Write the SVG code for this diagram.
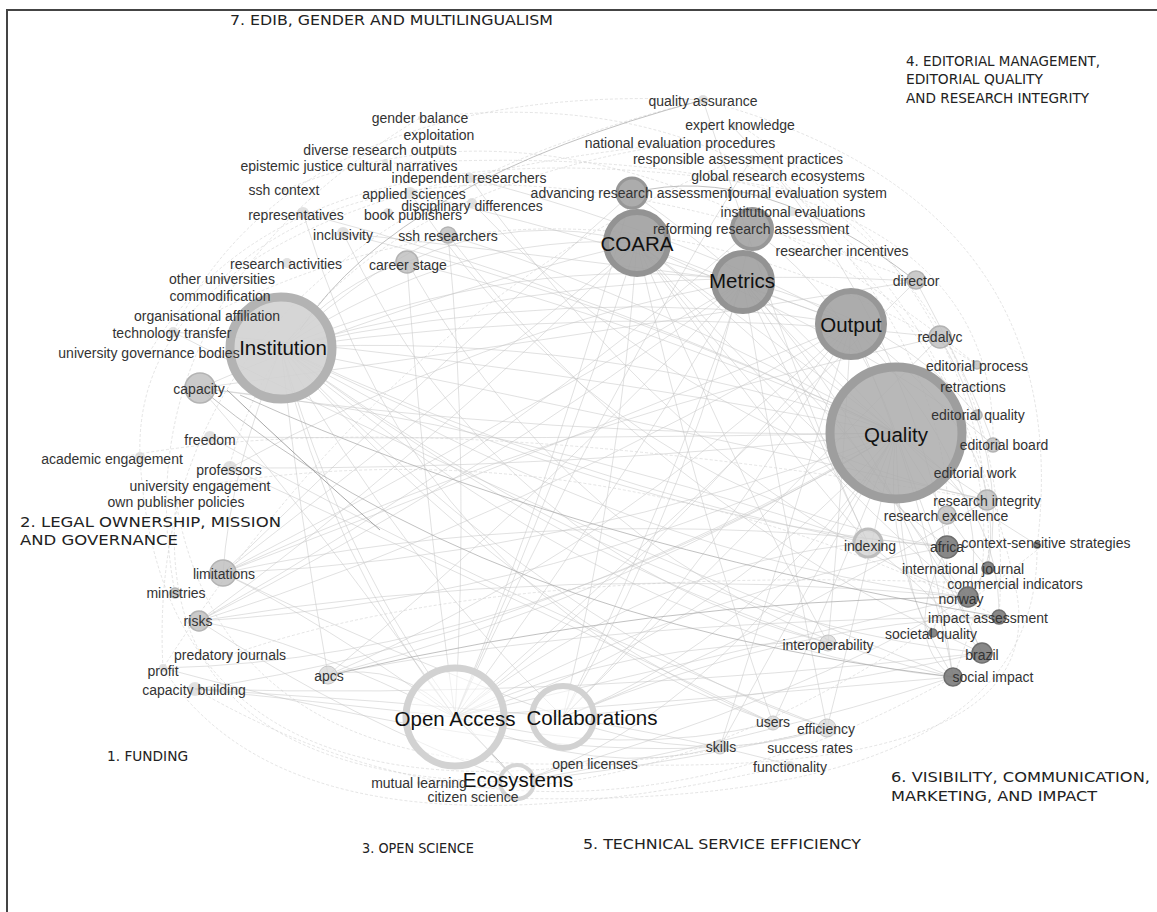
<svg xmlns="http://www.w3.org/2000/svg" width="1157" height="912" viewBox="0 0 1157 912">
<style>
.e{fill:none;stroke:#c6c6c6;stroke-width:0.7;opacity:0.75}
.f{fill:none;stroke:#d2d2d2;stroke-width:0.7;stroke-dasharray:3 2;opacity:0.85}
.m{fill:none;stroke:#a9a9a9;stroke-width:0.9;opacity:0.8}
.d{fill:none;stroke:#8a8a8a;stroke-width:1;opacity:0.75}
.n{fill:#bdbdbd;fill-opacity:0.8;stroke:#b3b3b3;stroke-width:1.5}
.t{fill:#d4d4d4;fill-opacity:0.7}
.k{fill:#7b7b7b;fill-opacity:0.9;stroke:#6e6e6e;stroke-width:1.5}
.l{font-family:"Liberation Sans",Arial,sans-serif;font-size:14px;fill:#333;text-anchor:middle;dominant-baseline:central}
.b{font-family:"Liberation Sans",Arial,sans-serif;font-size:20.5px;fill:#111;text-anchor:middle;dominant-baseline:central}
.g{font-family:"DejaVu Sans",Verdana,sans-serif;font-size:14px;fill:#222}
</style>
<rect width="1157" height="912" fill="#fff"/>
<path d="M7 912V10H1157" fill="none" stroke="#444" stroke-width="2"/>
<g id="edges">
<path class="e" d="M281 348Q460 230 637 243"/>
<path class="e" d="M281 348Q520 250 743 281"/>
<path class="e" d="M281 348Q580 280 851 324"/>
<path class="e" d="M281 348Q600 330 896 433"/>
<path class="e" d="M281 348Q330 560 455 717"/>
<path class="e" d="M281 348Q400 560 563 717"/>
<path class="e" d="M281 348Q360 620 517 782"/>
<path class="e" d="M281 348Q230 470 223 573"/>
<path class="e" d="M281 348Q300 520 328 675"/>
<path class="e" d="M281 348Q560 480 868 543"/>
<path class="e" d="M281 348Q620 520 947 547"/>
<path class="e" d="M281 348Q640 560 968 597"/>
<path class="e" d="M281 348Q560 560 828 643"/>
<path class="e" d="M281 348Q520 620 773 723"/>
<path class="e" d="M281 348Q560 640 827 728"/>
<path class="e" d="M281 348Q640 650 953 677"/>
<path class="e" d="M281 348Q650 620 982 653"/>
<path class="e" d="M281 348Q620 300 940 337"/>
<path class="e" d="M281 348Q600 260 916 281"/>
<path class="e" d="M281 348Q640 420 987 500"/>
<path class="e" d="M281 348Q340 280 407 262"/>
<path class="e" d="M281 348Q380 260 448 235"/>
<path class="e" d="M896 433Q760 330 637 243"/>
<path class="e" d="M896 433Q760 280 632 193"/>
<path class="e" d="M896 433Q850 300 752 229"/>
<path class="e" d="M896 433Q700 650 455 717"/>
<path class="e" d="M896 433Q760 640 563 717"/>
<path class="e" d="M896 433Q720 720 517 782"/>
<path class="e" d="M896 433Q560 560 223 573"/>
<path class="e" d="M896 433Q560 600 199 621"/>
<path class="e" d="M896 433Q560 440 200 388"/>
<path class="e" d="M896 433Q620 600 328 675"/>
<path class="e" d="M896 433Q640 320 407 262"/>
<path class="e" d="M896 433Q660 300 448 235"/>
<path class="e" d="M896 433Q620 300 343 233"/>
<path class="e" d="M896 433Q600 290 303 213"/>
<path class="e" d="M896 433Q520 360 173 332"/>
<path class="e" d="M896 433Q540 440 210 437"/>
<path class="e" d="M896 433Q560 470 230 468"/>
<path class="e" d="M896 433Q540 640 195 689"/>
<path class="e" d="M896 433Q520 660 163 668"/>
<path class="e" d="M896 433Q800 600 720 747"/>
<path class="e" d="M896 433Q830 600 773 723"/>
<path class="e" d="M896 433Q860 600 827 728"/>
<path class="e" d="M896 433Q880 560 953 677"/>
<path class="e" d="M896 433Q940 560 982 653"/>
<path class="e" d="M896 433Q960 500 1037 545"/>
<path class="e" d="M896 433Q1000 500 999 617"/>
<path class="e" d="M896 433Q960 540 988 568"/>
<path class="e" d="M896 433Q900 600 933 633"/>
<path class="e" d="M637 243Q560 480 455 717"/>
<path class="e" d="M637 243Q620 480 563 717"/>
<path class="e" d="M637 243Q420 420 223 573"/>
<path class="e" d="M637 243Q420 460 199 621"/>
<path class="e" d="M637 243Q760 420 868 543"/>
<path class="e" d="M637 243Q800 430 947 547"/>
<path class="e" d="M637 243Q760 520 828 643"/>
<path class="e" d="M637 243Q700 520 773 723"/>
<path class="e" d="M637 243Q820 480 968 597"/>
<path class="e" d="M637 243Q780 300 851 324"/>
<path class="e" d="M637 243Q520 210 407 262"/>
<path class="e" d="M637 243Q400 300 200 388"/>
<path class="e" d="M637 243Q900 360 993 445"/>
<path class="e" d="M637 243Q880 420 982 653"/>
<path class="e" d="M743 281Q600 520 455 717"/>
<path class="e" d="M743 281Q660 520 563 717"/>
<path class="e" d="M743 281Q480 440 223 573"/>
<path class="e" d="M743 281Q480 480 199 621"/>
<path class="e" d="M743 281Q540 500 328 675"/>
<path class="e" d="M743 281Q820 440 868 543"/>
<path class="e" d="M743 281Q860 420 987 500"/>
<path class="e" d="M743 281Q860 460 968 597"/>
<path class="e" d="M743 281Q780 500 827 728"/>
<path class="e" d="M743 281Q500 250 343 233"/>
<path class="e" d="M743 281Q480 330 230 468"/>
<path class="e" d="M743 281Q900 320 977 415"/>
<path class="e" d="M743 281Q920 480 953 677"/>
<path class="e" d="M851 324Q660 560 455 717"/>
<path class="e" d="M851 324Q720 560 563 717"/>
<path class="e" d="M851 324Q520 460 223 573"/>
<path class="e" d="M851 324Q520 520 199 621"/>
<path class="e" d="M851 324Q600 560 328 675"/>
<path class="e" d="M851 324Q700 240 470 178"/>
<path class="e" d="M851 324Q650 250 410 193"/>
<path class="e" d="M851 324Q840 520 828 643"/>
<path class="e" d="M851 324Q780 560 720 747"/>
<path class="e" d="M851 324Q930 500 953 677"/>
<path class="e" d="M851 324Q980 420 987 500"/>
<path class="e" d="M851 324Q1000 480 968 597"/>
<path class="e" d="M455 717Q700 660 968 597"/>
<path class="e" d="M455 717Q700 700 953 677"/>
<path class="e" d="M455 717Q620 640 828 643"/>
<path class="e" d="M455 717Q620 760 773 723"/>
<path class="e" d="M455 717Q600 780 720 747"/>
<path class="e" d="M455 717Q700 590 947 547"/>
<path class="e" d="M455 717Q660 560 868 543"/>
<path class="e" d="M455 717Q300 640 199 621"/>
<path class="e" d="M455 717Q320 620 223 573"/>
<path class="e" d="M455 717Q300 700 195 689"/>
<path class="e" d="M455 717Q400 660 328 675"/>
<path class="e" d="M455 717Q300 500 200 388"/>
<path class="e" d="M455 717Q420 460 407 262"/>
<path class="e" d="M455 717Q470 460 448 235"/>
<path class="e" d="M563 717Q760 640 987 500"/>
<path class="e" d="M563 717Q760 700 982 653"/>
<path class="e" d="M563 717Q700 770 827 728"/>
<path class="e" d="M563 717Q700 740 790 765"/>
<path class="e" d="M563 717Q380 650 223 573"/>
<path class="e" d="M563 717Q380 700 195 689"/>
<path class="e" d="M563 717Q800 620 999 617"/>
<path class="e" d="M517 782Q700 760 827 728"/>
<path class="e" d="M517 782Q760 740 953 677"/>
<path class="e" d="M517 782Q350 720 199 621"/>
<path class="e" d="M517 782Q800 700 968 597"/>
<path class="f" d="M163 668Q140 240 703 100"/>
<path class="f" d="M195 689Q560 900 953 677"/>
<path class="f" d="M175 593Q120 300 420 118"/>
<path class="f" d="M1037 547Q1080 200 703 100"/>
<path class="f" d="M703 100Q300 80 173 332"/>
<path class="f" d="M140 457Q160 820 595 764"/>
<path class="f" d="M1037 547Q1040 820 473 797"/>
<path class="f" d="M163 668Q300 880 790 765"/>
<path class="f" d="M420 118Q900 60 1015 585"/>
<path class="f" d="M349 166Q1000 120 993 445"/>
<path class="f" d="M149 353Q300 100 808 193"/>
<path class="f" d="M176 502Q240 860 826 729"/>
<path class="f" d="M230 655Q500 560 1015 585"/>
<path class="f" d="M207 316Q600 120 977 365"/>
<path class="f" d="M112 459Q400 400 987 500"/>
<path class="f" d="M200 486Q600 420 999 617"/>
<path class="f" d="M740 125Q1000 300 988 568"/>
<path class="f" d="M680 143Q300 200 229 468"/>
<path class="f" d="M738 159Q400 300 163 668"/>
<path class="f" d="M778 176Q1000 400 933 633"/>
<path class="f" d="M842 251Q1050 450 953 677"/>
<path class="f" d="M419 783Q700 820 1046 543"/>
<path class="f" d="M140 457Q130 200 680 143"/>
<path class="f" d="M222 279Q420 90 916 281"/>
<path class="f" d="M1015 585Q1060 780 595 764"/>
<path class="f" d="M176 502Q150 780 517 782"/>
<path class="f" d="M999 617Q1020 300 752 158"/>
<path class="f" d="M284 190Q600 60 977 365"/>
<path class="e" d="M407 262Q600 600 953 677"/>
<path class="e" d="M448 235Q650 500 982 653"/>
<path class="e" d="M343 233Q500 560 828 643"/>
<path class="e" d="M303 213Q420 600 773 723"/>
<path class="e" d="M470 178Q700 500 968 597"/>
<path class="e" d="M410 193Q620 500 947 547"/>
<path class="e" d="M472 203Q700 440 987 500"/>
<path class="e" d="M200 388Q500 420 868 543"/>
<path class="e" d="M223 573Q560 500 947 547"/>
<path class="e" d="M199 621Q560 560 968 597"/>
<path class="e" d="M328 675Q600 620 999 617"/>
<path class="e" d="M195 689Q560 700 982 653"/>
<path class="e" d="M163 668Q500 760 720 747"/>
<path class="e" d="M230 468Q520 600 773 723"/>
<path class="e" d="M210 437Q500 600 827 728"/>
<path class="e" d="M173 332Q500 500 953 677"/>
<path class="e" d="M916 281Q700 500 455 717"/>
<path class="e" d="M940 337Q720 560 563 717"/>
<path class="e" d="M916 281Q560 340 200 388"/>
<path class="e" d="M940 337Q560 420 223 573"/>
<path class="e" d="M632 193Q420 380 223 573"/>
<path class="e" d="M752 229Q520 440 199 621"/>
<path class="e" d="M632 193Q560 460 455 717"/>
<path class="e" d="M752 229Q700 480 563 717"/>
<path class="e" d="M703 100Q800 400 868 543"/>
<path class="e" d="M733 127Q900 300 947 547"/>
<path class="e" d="M752 158Q600 400 455 717"/>
<path class="e" d="M947 547Q900 640 953 677"/>
<path class="e" d="M968 597Q1000 560 987 500"/>
<path class="e" d="M868 543Q940 600 982 653"/>
<path class="e" d="M916 281Q980 400 993 445"/>
<path class="e" d="M940 337Q1010 460 988 568"/>
<path class="m" d="M300 330Q400 180 703 100"/>
<path class="m" d="M200 388Q480 620 953 677"/>
<path class="m" d="M330 675Q650 600 968 597"/>
<path class="m" d="M240 395Q560 540 999 617"/>
<path class="d" d="M227 390Q300 460 380 530"/>
<path class="m" d="M632 193Q760 160 916 281"/>
<path class="m" d="M455 717Q500 760 517 782"/>
</g>
<g id="node-quality"><circle cx="896" cy="433" r="66" fill="#ababab" fill-opacity="0.85" stroke="#9e9e9e" stroke-width="9"/><text class="b" x="896" y="434">Quality</text></g>
<g id="node-institution"><circle cx="281" cy="348" r="51" fill="#d2d2d2" fill-opacity="0.9" stroke="#b3b3b3" stroke-width="9"/><text class="b" x="283" y="347">Institution</text></g>
<g id="node-output"><circle cx="851" cy="324" r="33" fill="#a3a3a3" fill-opacity="0.9" stroke="#979797" stroke-width="6"/><text class="b" x="851" y="324">Output</text></g>
<g id="node-coara"><circle cx="637" cy="243" r="31" fill="#a0a0a0" fill-opacity="0.9" stroke="#939393" stroke-width="6"/><text class="b" x="637" y="243">COARA</text></g>
<g id="node-advancing"><circle cx="632" cy="193" r="15" fill="#a3a3a3" fill-opacity="0.9" stroke="#979797" stroke-width="3"/><text class="l" x="631" y="193">advancing research assessment</text></g>
<g id="node-reforming"><circle cx="752" cy="229" r="20" fill="#a3a3a3" fill-opacity="0.9" stroke="#979797" stroke-width="4"/><text class="l" x="751" y="229">reforming research assessment</text></g>
<g id="node-metrics"><circle cx="743" cy="282" r="29" fill="#a0a0a0" fill-opacity="0.9" stroke="#939393" stroke-width="6"/><text class="b" x="742" y="280">Metrics</text></g>
<g id="node-open-access"><circle cx="455" cy="717" r="49" fill="#fff" fill-opacity="0.5" stroke="#d2d2d2" stroke-width="7"/><text class="b" x="455" y="718">Open Access</text></g>
<g id="node-collaborations"><circle cx="563" cy="717" r="31" fill="#fff" fill-opacity="0.5" stroke="#d2d2d2" stroke-width="6"/><text class="b" x="592" y="717">Collaborations</text></g>
<g id="node-ecosystems"><circle cx="517" cy="782" r="17" fill="#fff" fill-opacity="0.5" stroke="#d5d5d5" stroke-width="4"/><text class="b" x="518" y="779">Ecosystems</text></g>
<g id="node-capacity"><circle class="n" cx="200" cy="388" r="15"/><text class="l" x="199" y="389">capacity</text></g>
<g id="node-limitations"><circle class="n" cx="223" cy="573" r="13"/><text class="l" x="224" y="574">limitations</text></g>
<g id="node-risks"><circle class="n" cx="199" cy="621" r="10"/><text class="l" x="198" y="621">risks</text></g>
<g id="node-ministries"><circle class="n" cx="175" cy="593" r="5"/><text class="l" x="176" y="593">ministries</text></g>
<g id="node-profit"><circle class="t" cx="163" cy="668" r="4"/><text class="l" x="163" y="671">profit</text></g>
<g id="node-capacity-building"><circle class="t" cx="195" cy="689" r="7"/><text class="l" x="194" y="690">capacity building</text></g>
<g id="node-predatory"><circle class="t" cx="230" cy="655" r="3"/><text class="l" x="230" y="655">predatory journals</text></g>
<g id="node-apcs"><circle class="t" cx="328" cy="675" r="9" stroke="#c6c6c6"/><text class="l" x="329" y="676">apcs</text></g>
<g id="node-career"><circle class="n" cx="407" cy="262" r="11" fill-opacity="0.6"/><text class="l" x="408" y="265">career stage</text></g>
<g id="node-ssh-res"><circle class="n" cx="448" cy="235" r="8" fill-opacity="0.6"/><text class="l" x="448" y="236">ssh researchers</text></g>
<g id="node-inclusivity"><circle class="t" cx="343" cy="233" r="6"/><text class="l" x="343" y="235">inclusivity</text></g>
<g id="node-representatives"><circle class="t" cx="303" cy="213" r="6"/><text class="l" x="296" y="215">representatives</text></g>
<g id="node-book"><circle class="t" cx="388" cy="213" r="5"/><text class="l" x="413" y="215">book publishers</text></g>
<g id="node-applied"><circle class="t" cx="410" cy="193" r="6"/><text class="l" x="414" y="194">applied sciences</text></g>
<g id="node-independent"><circle class="t" cx="470" cy="178" r="5"/><text class="l" x="469" y="178">independent researchers</text></g>
<g id="node-disciplinary"><circle class="t" cx="472" cy="203" r="5"/><text class="l" x="472" y="206">disciplinary differences</text></g>
<g id="node-ssh-context"><circle class="t" cx="284" cy="190" r="2"/><text class="l" x="284" y="190">ssh context</text></g>
<g id="node-epistemic"><circle class="t" cx="385" cy="162" r="3"/><text class="l" x="349" y="166">epistemic justice cultural narratives</text></g>
<g id="node-diverse"><circle class="t" cx="441" cy="148" r="3"/><text class="l" x="380" y="150">diverse research outputs</text></g>
<g id="node-exploitation"><circle class="t" cx="439" cy="135" r="2"/><text class="l" x="439" y="135">exploitation</text></g>
<g id="node-gender"><circle class="t" cx="420" cy="118" r="2"/><text class="l" x="420" y="118">gender balance</text></g>
<g id="node-research-act"><circle class="t" cx="287" cy="263" r="5"/><text class="l" x="286" y="264">research activities</text></g>
<g id="node-other-univ"><circle class="t" cx="222" cy="279" r="2"/><text class="l" x="222" y="279">other universities</text></g>
<g id="node-commodification"><circle class="t" cx="220" cy="296" r="2"/><text class="l" x="220" y="296">commodification</text></g>
<g id="node-org-aff"><circle class="t" cx="229" cy="316" r="3"/><text class="l" x="207" y="316">organisational affiliation</text></g>
<g id="node-tech"><circle class="t" cx="173" cy="332" r="5"/><text class="l" x="172" y="333">technology transfer</text></g>
<g id="node-univ-gov"><circle class="t" cx="149" cy="353" r="2"/><text class="l" x="149" y="353">university governance bodies</text></g>
<g id="node-freedom"><circle class="t" cx="210" cy="437" r="6"/><text class="l" x="210" y="440">freedom</text></g>
<g id="node-acad-eng"><circle class="t" cx="140" cy="457" r="5"/><text class="l" x="112" y="459">academic engagement</text></g>
<g id="node-professors"><circle class="t" cx="230" cy="468" r="7"/><text class="l" x="229" y="470">professors</text></g>
<g id="node-univ-eng"><circle class="t" cx="200" cy="486" r="2"/><text class="l" x="200" y="486">university engagement</text></g>
<g id="node-own-pub"><circle class="t" cx="176" cy="502" r="2"/><text class="l" x="176" y="502">own publisher policies</text></g>
<g id="node-qa"><circle class="t" cx="703" cy="100" r="5"/><text class="l" x="703" y="101">quality assurance</text></g>
<g id="node-expert"><circle class="t" cx="733" cy="126" r="3"/><text class="l" x="740" y="125">expert knowledge</text></g>
<g id="node-national"><circle class="t" cx="680" cy="143" r="2"/><text class="l" x="680" y="143">national evaluation procedures</text></g>
<g id="node-responsible"><circle class="t" cx="752" cy="158" r="3"/><text class="l" x="738" y="159">responsible assessment practices</text></g>
<g id="node-global"><circle class="t" cx="778" cy="176" r="2"/><text class="l" x="778" y="176">global research ecosystems</text></g>
<g id="node-journal"><circle class="t" cx="741" cy="193" r="2"/><text class="l" x="808" y="193">journal evaluation system</text></g>
<g id="node-inst-eval"><circle class="t" cx="792" cy="212" r="4"/><text class="l" x="793" y="212">institutional evaluations</text></g>
<g id="node-incentives"><circle class="t" cx="795" cy="251" r="3"/><text class="l" x="842" y="251">researcher incentives</text></g>
<g id="node-director"><circle class="n" cx="916" cy="280" r="9"/><text class="l" x="916" y="281">director</text></g>
<g id="node-redalyc"><circle class="n" cx="940" cy="337" r="11" fill="#a0a0a0"/><text class="l" x="940" y="337">redalyc</text></g>
<g id="node-ed-process"><circle class="n" cx="977" cy="365" r="4"/><text class="l" x="977" y="366">editorial process</text></g>
<g id="node-retractions"><circle class="t" cx="973" cy="387" r="2"/><text class="l" x="973" y="387">retractions</text></g>
<g id="node-ed-quality"><circle class="n" cx="977" cy="415" r="5"/><text class="l" x="978" y="415">editorial quality</text></g>
<g id="node-ed-board"><circle class="n" cx="993" cy="445" r="7"/><text class="l" x="1004" y="445">editorial board</text></g>
<g id="node-ed-work"><circle class="t" cx="975" cy="473" r="2"/><text class="l" x="975" y="473">editorial work</text></g>
<g id="node-res-integrity"><circle class="n" cx="987" cy="500" r="10"/><text class="l" x="987" y="501">research integrity</text></g>
<g id="node-res-exc"><circle class="n" cx="947" cy="515" r="9"/><text class="l" x="946" y="516">research excellence</text></g>
<g id="node-indexing"><circle cx="868" cy="543" r="14" fill="#d2d2d2" fill-opacity="0.8" stroke="#bdbdbd" stroke-width="3"/><text class="l" x="870" y="546">indexing</text></g>
<g id="node-africa"><circle class="k" cx="947" cy="547" r="11"/><text class="l" x="947" y="547">africa</text></g>
<g id="node-context"><circle class="k" cx="1037" cy="545" r="3"/><text class="l" x="1046" y="543">context-sensitive strategies</text></g>
<g id="node-intl"><circle class="k" cx="988" cy="568" r="6"/><text class="l" x="963" y="569">international journal</text></g>
<g id="node-commercial"><circle class="t" cx="1015" cy="585" r="2"/><text class="l" x="1015" y="584">commercial indicators</text></g>
<g id="node-norway"><circle class="k" cx="968" cy="597" r="10"/><text class="l" x="961" y="599">norway</text></g>
<g id="node-impact"><circle class="k" cx="999" cy="617" r="7"/><text class="l" x="988" y="618">impact assessment</text></g>
<g id="node-societal"><circle class="k" cx="933" cy="633" r="4"/><text class="l" x="931" y="634">societal quality</text></g>
<g id="node-brazil"><circle class="k" cx="982" cy="653" r="10"/><text class="l" x="982" y="655">brazil</text></g>
<g id="node-social"><circle class="k" cx="953" cy="677" r="9"/><text class="l" x="993" y="677">social impact</text></g>
<g id="node-interop"><circle class="t" cx="828" cy="643" r="8" stroke="#c6c6c6"/><text class="l" x="828" y="645">interoperability</text></g>
<g id="node-users"><circle class="t" cx="773" cy="723" r="7" stroke="#c6c6c6"/><text class="l" x="773" y="722">users</text></g>
<g id="node-efficiency"><circle class="t" cx="827" cy="728" r="9" stroke="#c6c6c6"/><text class="l" x="826" y="729">efficiency</text></g>
<g id="node-skills"><circle class="t" cx="720" cy="747" r="7" stroke="#c6c6c6"/><text class="l" x="721" y="747">skills</text></g>
<g id="node-success"><circle class="t" cx="810" cy="748" r="2"/><text class="l" x="810" y="748">success rates</text></g>
<g id="node-functionality"><circle class="t" cx="790" cy="765" r="4"/><text class="l" x="790" y="767">functionality</text></g>
<g id="node-open-licenses"><circle class="t" cx="595" cy="764" r="2"/><text class="l" x="595" y="764">open licenses</text></g>
<g id="node-mutual"><circle class="t" cx="419" cy="783" r="2"/><text class="l" x="419" y="783">mutual learning</text></g>
<g id="node-citizen"><circle class="t" cx="473" cy="797" r="2"/><text class="l" x="473" y="797">citizen science</text></g>
<g id="groups">
<text class="g" x="230" y="25" textLength="323" lengthAdjust="spacingAndGlyphs">7. EDIB, GENDER AND MULTILINGUALISM</text>
<text class="g" x="906" y="66" textLength="194" lengthAdjust="spacingAndGlyphs">4. EDITORIAL MANAGEMENT,</text>
<text class="g" x="906" y="84" textLength="137" lengthAdjust="spacingAndGlyphs">EDITORIAL QUALITY</text>
<text class="g" x="906" y="103" textLength="183" lengthAdjust="spacingAndGlyphs">AND RESEARCH INTEGRITY</text>
<text class="g" x="20" y="527" textLength="261" lengthAdjust="spacingAndGlyphs">2. LEGAL OWNERSHIP, MISSION</text>
<text class="g" x="20" y="545" textLength="158" lengthAdjust="spacingAndGlyphs">AND GOVERNANCE</text>
<text class="g" x="107" y="761" textLength="81" lengthAdjust="spacingAndGlyphs">1. FUNDING</text>
<text class="g" x="891" y="782" textLength="259" lengthAdjust="spacingAndGlyphs">6. VISIBILITY, COMMUNICATION,</text>
<text class="g" x="891" y="801" textLength="206" lengthAdjust="spacingAndGlyphs">MARKETING, AND IMPACT</text>
<text class="g" x="362" y="853" textLength="112" lengthAdjust="spacingAndGlyphs">3. OPEN SCIENCE</text>
<text class="g" x="583" y="849" textLength="278" lengthAdjust="spacingAndGlyphs">5. TECHNICAL SERVICE EFFICIENCY</text>
</g>
</svg>
